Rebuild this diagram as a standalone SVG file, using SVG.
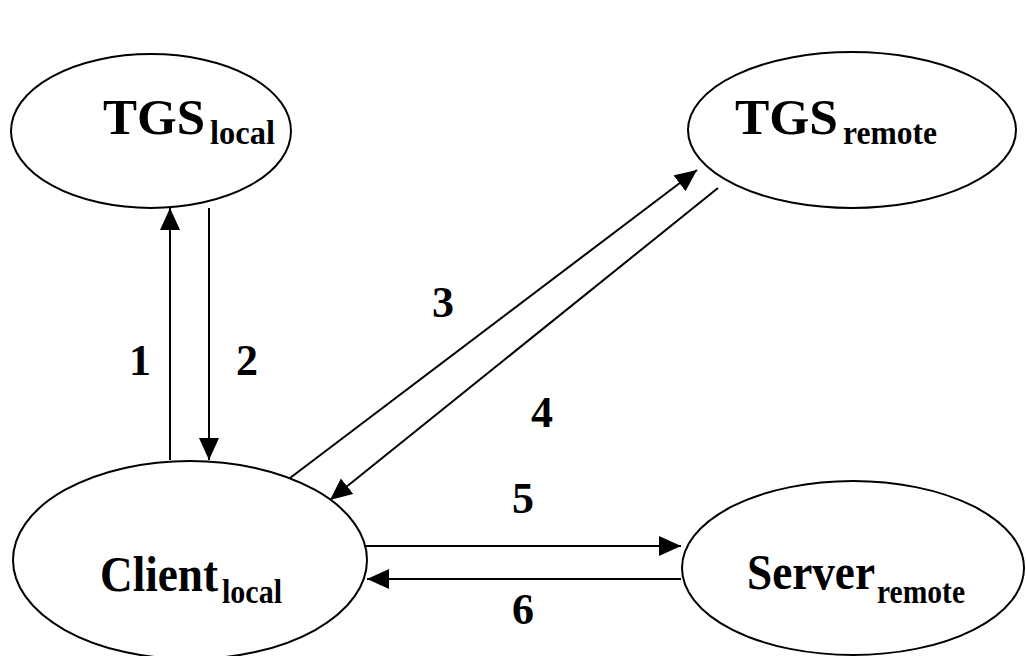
<svg xmlns="http://www.w3.org/2000/svg" width="1026" height="656" viewBox="0 0 1026 656">
<style>
.node{fill:#fff;stroke:#000;stroke-width:2}
.lbl{font-family:"Liberation Serif","DejaVu Serif","Times New Roman",serif;font-weight:bold;font-size:50px;fill:#000}
.sub{font-family:"Liberation Serif","DejaVu Serif","Times New Roman",serif;font-weight:bold;font-size:34px;fill:#000}
.num{font-family:"Liberation Serif","DejaVu Serif","Times New Roman",serif;font-weight:bold;font-size:44px;fill:#000;text-anchor:middle}
.conn{stroke:#000;stroke-width:2;fill:none;marker-end:url(#ah)}
</style>
<defs>
<marker id="ah" markerUnits="userSpaceOnUse" markerWidth="24" markerHeight="22" refX="22" refY="10" orient="auto">
<path d="M0,0 L22,10 L0,20 z" fill="#000"/>
</marker>
</defs>
<rect width="1026" height="656" fill="#fff"/>
<g id="tgs-local">
<ellipse class="node" cx="151" cy="131" rx="140" ry="77"/>
<text class="lbl" x="103" y="134" textLength="102" lengthAdjust="spacingAndGlyphs">TGS</text>
<text class="sub" x="210" y="144" textLength="65" lengthAdjust="spacingAndGlyphs">local</text>
</g>
<g id="tgs-remote">
<ellipse class="node" cx="852" cy="130" rx="164" ry="78"/>
<text class="lbl" x="735" y="134" textLength="103" lengthAdjust="spacingAndGlyphs">TGS</text>
<text class="sub" x="843" y="144" textLength="94" lengthAdjust="spacingAndGlyphs">remote</text>
</g>
<g id="client-local">
<ellipse class="node" cx="190" cy="560" rx="177" ry="99"/>
<text class="lbl" x="100" y="591" textLength="118" lengthAdjust="spacingAndGlyphs">Client</text>
<text class="sub" x="222" y="603" textLength="60" lengthAdjust="spacingAndGlyphs">local</text>
</g>
<g id="server-remote">
<ellipse class="node" cx="853" cy="568" rx="171" ry="87"/>
<text class="lbl" x="747" y="589" textLength="128" lengthAdjust="spacingAndGlyphs">Server</text>
<text class="sub" x="877" y="603" textLength="88" lengthAdjust="spacingAndGlyphs">remote</text>
</g>
<g id="connectors">
<line class="conn" x1="170" y1="460" x2="170" y2="208"/>
<line class="conn" x1="209" y1="208" x2="209" y2="460"/>
<line class="conn" x1="290" y1="478" x2="697" y2="170"/>
<line class="conn" x1="718" y1="188" x2="330" y2="500"/>
<line class="conn" x1="366" y1="546" x2="681" y2="546"/>
<line class="conn" x1="681" y1="579" x2="367" y2="579"/>
</g>
<g id="labels">
<text class="num" x="140" y="375">1</text>
<text class="num" x="247" y="375">2</text>
<text class="num" x="443" y="317">3</text>
<text class="num" x="542" y="427">4</text>
<text class="num" x="523" y="513">5</text>
<text class="num" x="523" y="624">6</text>
</g>
</svg>
